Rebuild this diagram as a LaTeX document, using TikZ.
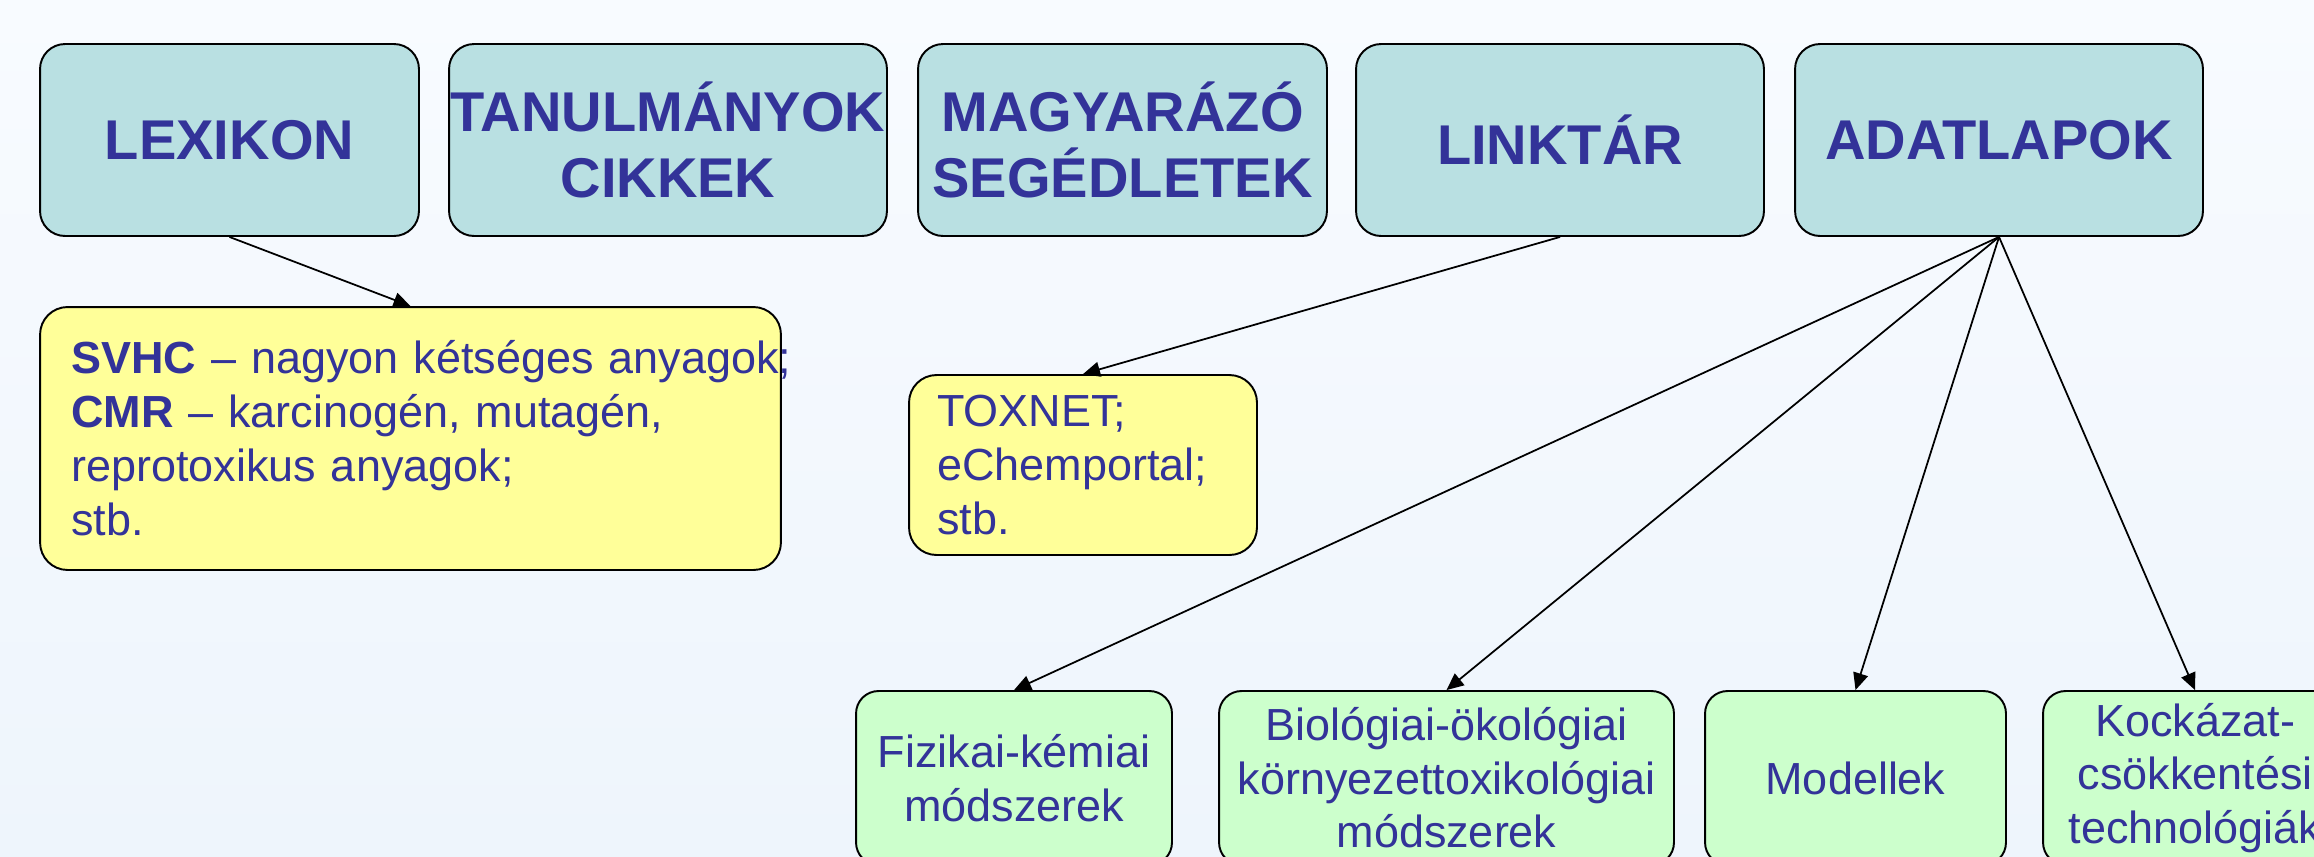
\documentclass[tikz,border=0pt]{standalone}
\usepackage{fontspec}
\setmainfont{Liberation Sans}
\usepackage{tikz}
\usetikzlibrary{arrows.meta}

\definecolor{darkblue}{HTML}{333399}
\definecolor{headfill}{HTML}{B9E0E2}
\definecolor{notefill}{HTML}{FFFF99}
\definecolor{methodfill}{HTML}{CCFFCC}
\definecolor{bgtop}{HTML}{F8FBFF}
\definecolor{bgbottom}{HTML}{EEF5FC}

\begin{document}
\begin{tikzpicture}[x=0.02cm,y=-0.02cm]
\useasboundingbox (0,0) rectangle (2314,856);
\clip (0,0) rectangle (2314,856);
\shade[top color=bgtop,bottom color=bgbottom] (0,0) rectangle (2314,856);

% main headings
\begin{scope}[every node/.style={draw,line width=1.1pt,rounded corners=0.5cm,fill=headfill,text=darkblue,
              font=\fontsize{31.9}{38}\selectfont\bfseries,align=center,inner sep=0pt,minimum height=3.84cm}]
    \node[minimum width=7.58cm] (lexikon) at (229.5,140) {LEXIKON};
    \node[minimum width=8.76cm] (tanulmanyok) at (668,140) {TANULMÁNYOK\\CIKKEK};
    \node[minimum width=8.18cm] (magyarazo) at (1122.5,140) {MAGYARÁZÓ\\SEGÉDLETEK};
    \node[minimum width=8.16cm] (linktar) at (1560,140) {LINKTÁR};
    \node[minimum width=8.16cm] (adatlapok) at (1999,140) {ADATLAPOK};
\end{scope}

% notes
\begin{scope}[every node/.style={draw,line width=1.1pt,rounded corners=0.55cm,fill=notefill,text=darkblue,
              font=\fontsize{25.6}{30.7}\selectfont,align=left,inner sep=0pt}]
    \node[minimum width=14.82cm,minimum height=5.26cm,text width=13.58cm] (svhc) at (410.5,438.5)
        {\mbox{\textbf{SVHC} – nagyon kétséges anyagok;}\\\textbf{CMR} – karcinogén, mutagén,\\reprotoxikus anyagok;\\stb.};
    \node[minimum width=6.96cm,minimum height=3.6cm,text width=5.84cm] (toxnet) at (1083,465)
        {TOXNET;\\eChemportal;\\stb.};
\end{scope}

% methods
\begin{scope}[every node/.style={draw,line width=1.1pt,rounded corners=0.45cm,fill=methodfill,text=darkblue,
              font=\fontsize{25.6}{30.5}\selectfont,align=center,inner sep=0pt,minimum height=3.48cm}]
    \node[minimum width=6.32cm] (fizikai) at (1014,778) {Fizikai-kémiai\\módszerek};
    \node[minimum width=9.1cm] (biologiai) at (1446.5,778) {Biológiai-ökológiai\\környezettoxikológiai\\módszerek};
    \node[minimum width=6.02cm] (modellek) at (1855.5,778) {Modellek};
    \node[minimum width=6.08cm] (kockazat) at (2195,778) {Kockázat-\\csökkentési\\technológiák};
\end{scope}

\begin{scope}[>={Triangle[length=0.34cm,width=0.3cm]},
              every edge/.style={draw=black,line width=1pt}]
    \path [->] (lexikon.south) edge (svhc.north);
    \path [->] (linktar.south) edge (toxnet.north);
    \path [->] (adatlapok.south) edge (fizikai.north);
    \path [->] (adatlapok.south) edge (biologiai.north);
    \path [->] (adatlapok.south) edge (modellek.north);
    \path [->] (adatlapok.south) edge (kockazat.north);
\end{scope}
\end{tikzpicture}
\end{document}
